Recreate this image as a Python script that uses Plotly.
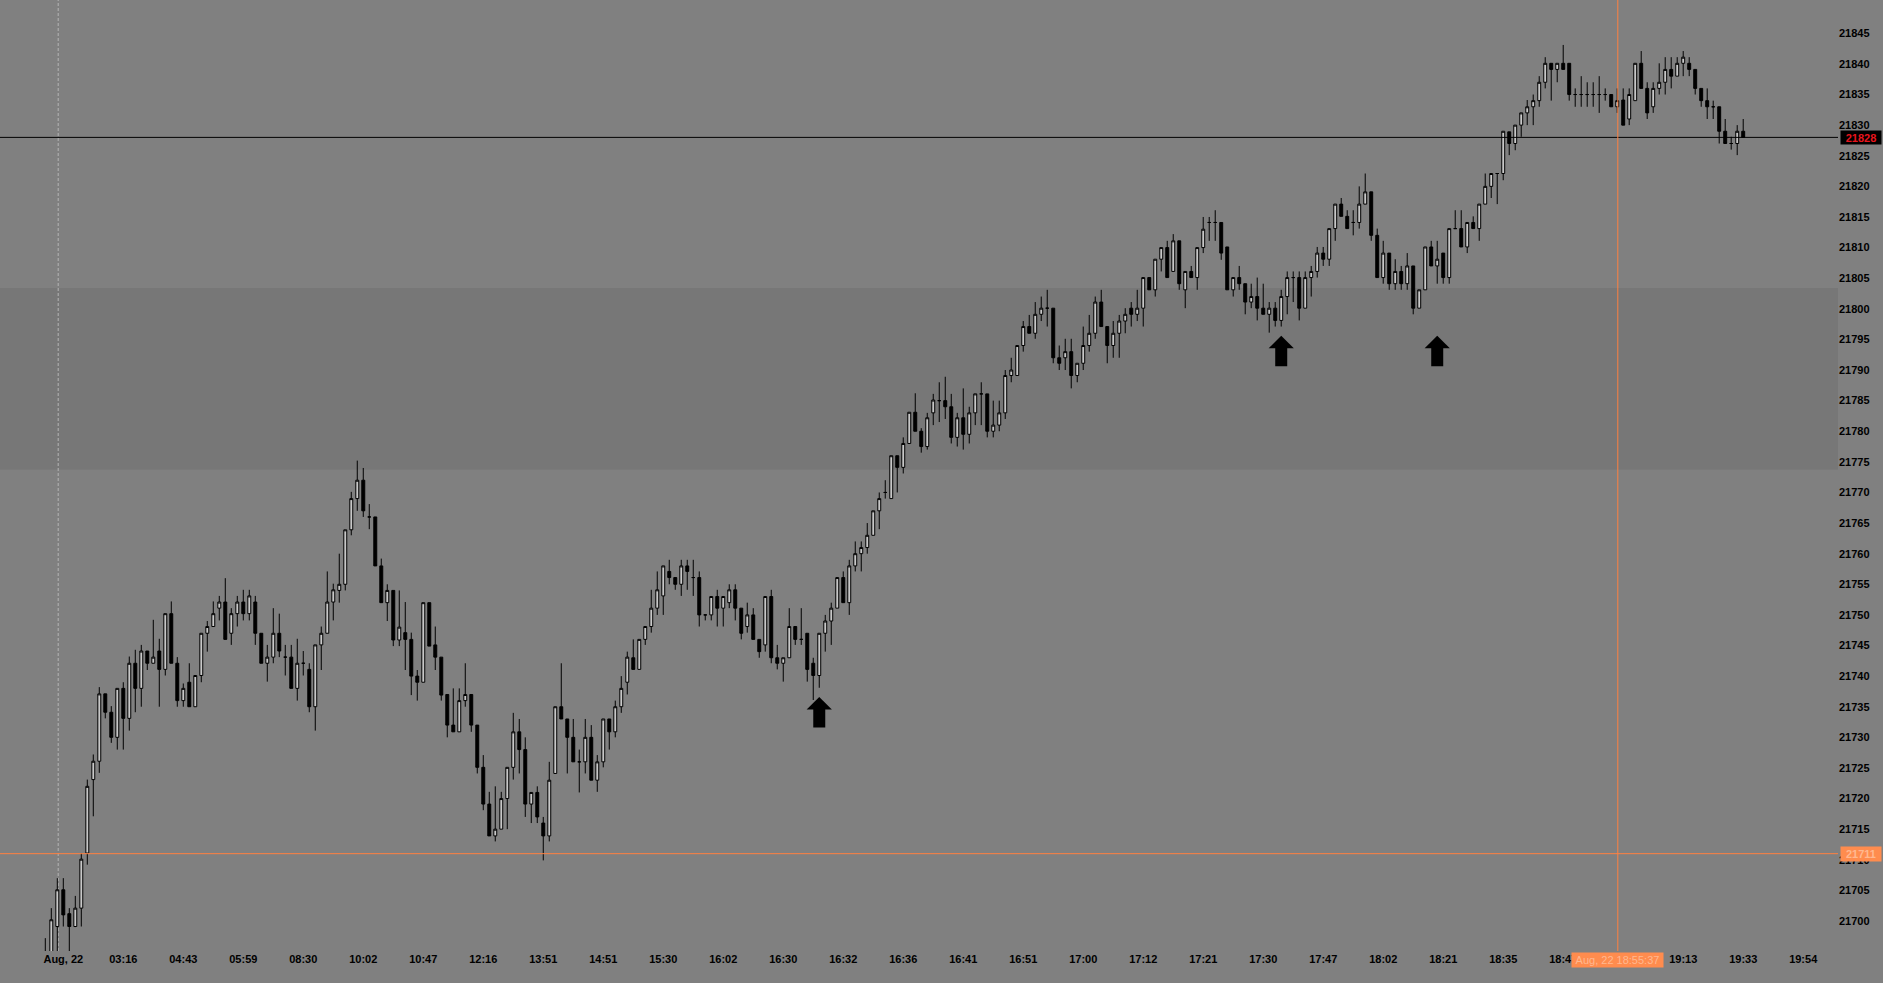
import plotly.graph_objects as go

# ---------------- data ----------------
opens = [
21695.0,21694.0,21699.1,21705.1,21701.2,21699.1,21702.1,21711.1,21723.1,21726.1,
21737.1,21734.1,21730.0,21738.0,21733.1,21742.1,21738.0,21744.1,21742.1,21744.1,
21741.1,21750.2,21742.1,21736.0,21739.0,21735.0,21740.1,21747.0,21748.1,21751.1,
21752.1,21747.0,21750.2,21752.1,21750.2,21752.1,21747.0,21742.1,21743.1,21747.0,
21743.1,21743.1,21738.0,21742.1,21741.1,21735.0,21745.1,21747.0,21752.1,21754.0,
21755.0,21763.9,21769.0,21772.0,21766.0,21766.0,21758.0,21752.0,21754.0,21745.9,
21747.1,21746.0,21740.0,21739.0,21752.0,21745.1,21743.1,21737.0,21732.0,21730.9,
21736.0,21737.0,21732.0,21725.1,21719.1,21713.9,21715.0,21720.0,21725.1,21730.9,
21728.0,21719.1,21721.0,21716.0,21713.9,21724.1,21735.0,21733.0,21730.0,21726.0,
21726.0,21730.0,21723.0,21726.0,21733.0,21730.9,21735.0,21739.0,21743.0,21741.1,
21746.0,21748.1,21751.1,21753.1,21757.1,21756.1,21755.0,21758.0,21756.1,21756.1,
21750.0,21750.0,21753.0,21751.1,21752.0,21754.1,21751.1,21748.1,21750.0,21746.0,
21745.1,21753.0,21743.0,21742.1,21743.0,21748.1,21746.0,21747.0,21742.1,21740.1,
21747.0,21749.0,21751.1,21756.1,21752.0,21758.0,21760.0,21761.0,21763.0,21767.0,
21770.0,21769.0,21776.0,21774.1,21778.0,21783.1,21780.0,21777.5,21783.0,21785.0,
21785.0,21784.0,21779.0,21782.2,21779.5,21783.0,21786.1,21786.1,21780.0,21781.0,
21783.0,21789.1,21789.1,21794.0,21797.1,21796.0,21799.1,21800.1,21800.1,21792.0,
21792.0,21793.0,21789.1,21791.1,21794.0,21796.0,21801.1,21797.1,21794.0,21796.0,
21798.0,21800.1,21799.1,21800.1,21805.1,21803.1,21808.1,21810.0,21806.1,21811.1,
21803.1,21806.1,21805.1,21810.0,21814.1,21814.1,21814.1,21810.1,21803.1,21805.1,
21804.1,21801.1,21802.0,21800.1,21799.1,21800.1,21798.1,21802.0,21805.1,21805.1,
21800.1,21805.1,21806.1,21809.1,21808.1,21813.1,21817.1,21815.1,21814.1,21814.1,
21817.1,21819.1,21812.0,21805.1,21809.1,21804.1,21806.1,21804.1,21807.0,21800.1,
21803.1,21810.1,21807.0,21809.1,21805.1,21813.1,21813.1,21810.1,21814.1,21813.1,
21817.1,21820.0,21822.1,21822.1,21828.9,21827.0,21830.0,21832.0,21833.0,21834.0,
21837.0,21840.1,21839.1,21840.1,21840.1,21835.0,21835.0,21835.0,21835.0,21835.0,
21835.0,21835.0,21833.0,21834.1,21831.0,21834.0,21840.1,21836.0,21833.0,21836.0,
21837.0,21839.1,21838.0,21840.1,21840.1,21839.1,21836.0,21834.0,21833.0,21833.0,
21829.0,21827.0,21827.0,21829.0]
highs = [
21697.2,21702.1,21707.0,21707.0,21702.1,21704.1,21711.1,21723.1,21727.2,21738.2,
21737.1,21735.1,21738.0,21739.0,21743.2,21744.3,21745.1,21744.1,21749.2,21746.1,
21750.2,21752.2,21743.1,21738.8,21742.1,21740.1,21747.0,21749.0,21752.2,21753.1,
21756.0,21751.1,21753.1,21754.1,21754.1,21753.1,21747.0,21745.1,21751.1,21750.2,
21745.1,21745.1,21746.1,21744.1,21742.1,21745.1,21748.1,21757.1,21755.1,21760.0,
21763.9,21770.1,21775.2,21774.0,21768.1,21766.0,21759.2,21755.0,21754.0,21754.0,
21752.1,21747.1,21741.0,21752.0,21752.0,21748.1,21743.1,21737.0,21738.0,21738.0,
21742.1,21737.0,21732.0,21727.1,21721.1,21722.0,21721.1,21725.1,21734.0,21733.0,
21730.0,21721.0,21722.0,21717.0,21726.0,21735.0,21742.1,21733.0,21733.0,21728.0,
21733.0,21732.0,21727.1,21733.0,21733.0,21736.0,21740.0,21744.0,21746.0,21746.0,
21748.1,21754.1,21757.1,21758.0,21759.0,21756.1,21759.0,21759.0,21759.0,21757.1,
21750.0,21753.0,21754.1,21753.0,21755.0,21755.0,21751.1,21752.0,21751.1,21746.0,
21753.0,21754.1,21745.1,21743.0,21751.1,21748.1,21751.1,21747.0,21743.0,21747.0,
21750.0,21752.0,21756.1,21757.1,21759.0,21762.0,21762.0,21765.0,21767.0,21770.0,
21772.0,21776.0,21776.0,21779.0,21783.1,21786.2,21780.5,21783.0,21786.1,21788.0,
21788.9,21786.1,21783.0,21787.0,21784.0,21786.1,21788.0,21786.1,21785.0,21785.0,
21790.0,21792.0,21794.0,21798.0,21799.0,21801.1,21802.0,21803.1,21800.1,21794.0,
21795.1,21795.1,21791.1,21797.1,21799.0,21802.0,21803.1,21797.1,21798.0,21799.0,
21800.1,21801.1,21803.1,21805.1,21805.1,21808.1,21810.0,21811.1,21812.2,21811.1,
21806.1,21807.0,21810.0,21815.0,21815.0,21816.1,21814.1,21810.1,21805.1,21807.0,
21804.1,21804.1,21805.1,21804.1,21801.1,21801.1,21803.1,21806.1,21806.1,21806.1,
21806.1,21807.0,21810.1,21810.1,21813.1,21817.1,21818.1,21816.1,21816.1,21820.0,
21822.1,21819.1,21813.1,21811.1,21809.1,21808.1,21807.0,21809.1,21807.0,21803.1,
21810.1,21811.1,21811.1,21809.1,21813.1,21816.1,21816.1,21814.1,21815.1,21817.1,
21822.1,21822.1,21822.1,21829.0,21828.9,21830.0,21832.0,21834.1,21835.0,21838.0,
21841.1,21840.1,21840.1,21843.1,21840.1,21836.0,21838.0,21837.0,21837.0,21838.0,
21836.0,21835.0,21836.0,21836.0,21836.0,21840.1,21842.1,21837.0,21837.0,21840.1,
21841.1,21841.1,21841.1,21842.1,21841.1,21839.1,21836.0,21836.0,21834.0,21833.0,
21831.0,21828.1,21830.0,21831.0]
lows = [
21693.0,21693.0,21695.0,21699.1,21695.0,21699.0,21699.1,21709.2,21717.1,21724.2,
21733.1,21729.1,21728.0,21728.0,21731.1,21734.1,21735.0,21741.0,21742.1,21735.0,
21740.1,21742.1,21735.0,21735.0,21735.0,21735.0,21739.0,21744.0,21748.1,21749.1,
21746.0,21745.1,21748.1,21749.1,21749.1,21745.1,21742.1,21739.1,21742.1,21743.1,
21740.1,21738.0,21736.0,21740.1,21734.1,21731.1,21741.0,21747.0,21749.1,21752.0,
21754.0,21763.0,21767.0,21766.0,21764.0,21758.0,21752.0,21749.0,21744.9,21744.9,
21741.0,21736.9,21736.0,21739.0,21744.9,21741.0,21736.0,21730.0,21730.9,21730.9,
21735.0,21730.9,21724.1,21718.1,21713.9,21713.0,21715.0,21715.0,21723.1,21724.1,
21717.0,21716.0,21716.0,21709.9,21713.0,21724.1,21733.0,21724.1,21726.0,21721.0,
21724.1,21723.0,21721.1,21725.1,21728.0,21730.0,21734.0,21737.0,21741.1,21741.1,
21745.1,21747.1,21750.0,21750.0,21755.0,21754.1,21753.1,21754.1,21753.1,21748.1,
21749.1,21749.1,21748.1,21748.1,21751.1,21749.1,21746.0,21747.1,21746.0,21743.0,
21744.0,21742.1,21741.1,21739.1,21743.0,21745.1,21745.1,21739.1,21736.1,21738.1,
21744.0,21745.1,21751.1,21752.0,21750.0,21757.1,21757.1,21760.0,21763.0,21764.0,
21769.0,21769.0,21770.0,21773.1,21778.0,21780.0,21776.5,21777.0,21781.0,21781.5,
21782.0,21778.0,21777.5,21777.0,21778.0,21781.0,21781.0,21779.0,21779.0,21780.0,
21782.0,21788.0,21789.1,21793.0,21796.0,21795.1,21798.0,21797.1,21791.1,21790.0,
21790.0,21787.0,21788.0,21790.0,21793.0,21795.1,21797.1,21791.1,21792.0,21792.0,
21796.0,21797.1,21798.0,21797.1,21803.1,21802.0,21806.1,21805.1,21806.1,21803.1,
21800.1,21805.1,21803.1,21809.1,21811.1,21811.1,21808.0,21803.1,21802.0,21803.1,
21799.1,21800.1,21798.1,21799.1,21796.1,21797.1,21797.1,21799.1,21801.1,21798.1,
21800.1,21802.0,21805.1,21807.0,21807.0,21811.1,21815.1,21813.1,21812.0,21813.1,
21817.1,21811.1,21805.1,21804.1,21803.1,21803.1,21803.1,21803.1,21799.1,21800.1,
21803.1,21807.0,21804.1,21804.1,21804.1,21813.1,21810.1,21809.1,21813.1,21811.1,
21817.1,21818.1,21817.1,21821.0,21825.1,21825.9,21828.1,21830.0,21830.0,21833.0,
21836.0,21834.0,21837.0,21839.1,21834.0,21833.0,21833.0,21833.0,21833.0,21832.0,
21834.0,21833.0,21832.0,21830.0,21830.0,21834.0,21836.0,21831.0,21832.0,21835.0,
21835.0,21836.0,21838.0,21838.0,21838.0,21835.0,21833.0,21831.0,21831.0,21827.0,
21827.0,21826.0,21825.1,21828.0]
closes = [
21694.5,21700.2,21705.1,21701.0,21699.1,21702.1,21710.1,21722.0,21726.1,21737.1,
21734.1,21730.0,21738.0,21733.1,21742.1,21738.0,21744.1,21742.1,21743.1,21741.1,
21750.2,21742.1,21736.0,21738.0,21735.0,21740.1,21747.0,21748.1,21750.2,21752.1,
21746.0,21750.2,21752.1,21750.2,21753.1,21747.0,21742.1,21743.1,21747.0,21744.1,
21743.1,21738.0,21742.1,21742.1,21735.0,21745.1,21747.0,21752.1,21754.1,21755.0,
21763.9,21769.0,21772.0,21767.0,21766.0,21758.0,21752.0,21754.0,21745.9,21748.0,
21746.0,21740.0,21739.0,21752.0,21744.9,21743.1,21736.9,21732.0,21730.9,21736.0,
21737.0,21732.0,21725.1,21719.1,21713.9,21715.0,21720.0,21725.1,21730.9,21728.0,
21719.1,21721.0,21717.0,21713.9,21723.0,21735.0,21733.0,21730.0,21726.0,21726.0,
21730.0,21723.0,21726.0,21733.0,21730.9,21735.0,21738.0,21743.1,21741.1,21746.0,
21748.1,21751.1,21754.1,21758.0,21756.1,21755.0,21758.0,21757.1,21756.1,21750.0,
21750.0,21753.0,21751.1,21753.0,21754.1,21751.1,21747.0,21750.0,21746.0,21744.0,
21753.0,21743.0,21742.1,21743.0,21748.1,21746.0,21746.0,21741.1,21740.1,21747.0,
21749.0,21751.1,21756.1,21752.0,21758.0,21760.0,21761.0,21763.0,21767.0,21769.0,
21770.0,21776.0,21774.1,21778.0,21783.1,21780.0,21777.5,21782.2,21785.1,21785.0,
21784.0,21779.0,21782.2,21779.5,21783.0,21786.1,21786.1,21780.0,21781.0,21783.0,
21789.1,21790.0,21794.0,21797.1,21796.0,21799.1,21800.1,21800.1,21792.0,21791.1,
21793.0,21789.1,21791.1,21794.0,21796.0,21801.1,21797.1,21794.0,21796.0,21798.0,
21799.1,21799.1,21800.1,21805.1,21803.1,21808.1,21810.0,21805.1,21811.1,21804.1,
21806.1,21805.1,21810.0,21813.0,21814.1,21814.1,21809.1,21803.1,21805.1,21804.1,
21801.1,21802.0,21800.1,21799.1,21800.1,21798.1,21802.0,21805.1,21805.1,21800.1,
21805.1,21806.1,21809.1,21808.1,21813.1,21817.1,21815.1,21813.1,21814.1,21817.1,
21819.1,21812.0,21805.1,21809.1,21804.1,21806.1,21804.1,21807.0,21800.1,21803.1,
21810.1,21807.0,21808.1,21805.1,21813.1,21813.1,21810.1,21814.1,21813.1,21817.1,
21820.0,21822.1,21822.1,21829.0,21827.0,21830.0,21832.0,21833.0,21834.0,21837.0,
21840.1,21839.1,21840.1,21839.1,21835.0,21835.0,21835.0,21835.0,21835.0,21835.0,
21835.0,21833.0,21834.0,21830.0,21835.0,21840.1,21836.0,21832.0,21836.0,21837.0,
21839.1,21838.0,21840.1,21841.1,21839.1,21836.0,21834.0,21833.0,21833.0,21829.0,
21827.0,21827.0,21829.0,21828.0]
bar_index = list(range(len(closes)))

x_tick_index = [3, 13, 23, 33, 43, 53, 63, 73, 83, 93, 103, 113, 123, 133, 143,
                153, 163, 173, 183, 193, 203, 213, 223, 233, 243, 253, 263, 273, 283, 293]
x_tick_text = ["Aug, 22", "03:16", "04:43", "05:59", "08:30", "10:02", "10:47", "12:16",
               "13:51", "14:51", "15:30", "16:02", "16:30", "16:32", "16:36", "16:41",
               "16:51", "17:00", "17:12", "17:21", "17:30", "17:47", "18:02", "18:21",
               "18:35", "18:47", "", "19:13", "19:33", "19:54"]
y_tick_values = [21700, 21705, 21710, 21715, 21720, 21725, 21730, 21735, 21740, 21745,
                 21750, 21755, 21760, 21765, 21770, 21775, 21780, 21785, 21790, 21795,
                 21800, 21805, 21810, 21815, 21820, 21825, 21830, 21835, 21840, 21845]

signal_index = [129, 206, 232]
signal_price = [21736.6, 21795.6, 21795.6]

zone_low, zone_high = 21773.7, 21803.4
last_price = 21828
cursor_index = 262.1
cursor_price = 21711
cursor_time_text = "Aug, 22 18:55:37"
session_start_index = 2.15

# ---------------- figure ----------------
BG = "#808080"
FONT = "Liberation Sans, Arial, sans-serif"
TICKFONT = dict(family=FONT, size=11, color="#000000", weight="bold")

fig = go.Figure()
fig.add_trace(go.Candlestick(
    x=bar_index, open=opens, high=highs, low=lows, close=closes,
    increasing=dict(fillcolor="#c8c8c8", line=dict(color="#000000", width=1)),
    decreasing=dict(fillcolor="#000000", line=dict(color="#000000", width=1)),
    hoverinfo="skip", showlegend=False,
))

shapes = [
    dict(type="rect", xref="paper", x0=0, x1=1, yref="y", y0=zone_low, y1=zone_high,
         fillcolor="rgba(0,0,0,0.065)", line=dict(width=0), layer="below"),
    dict(type="line", xref="x", x0=session_start_index, x1=session_start_index,
         yref="paper", y0=0, y1=1, line=dict(color="#b4b4b4", width=1, dash="3px,2px"),
         layer="below"),
    dict(type="line", xref="paper", x0=0, x1=1, yref="y", y0=last_price, y1=last_price,
         line=dict(color="#000000", width=1), layer="above"),
    dict(type="line", xref="paper", x0=0, x1=1, yref="y", y0=cursor_price, y1=cursor_price,
         line=dict(color="#ff8040", width=1), layer="above"),
    dict(type="line", xref="x", x0=cursor_index, x1=cursor_index, yref="paper", y0=0, y1=1,
         line=dict(color="#ff8040", width=1), layer="above"),
]

annotations = []
for xi, yp in zip(signal_index, signal_price):
    # head
    annotations.append(dict(x=xi, y=yp, xref="x", yref="y", text="", showarrow=True,
                            ax=0, ay=12, arrowhead=1, arrowwidth=2, arrowsize=2.1,
                            arrowcolor="#000000", standoff=0, font=dict(size=1),
                            borderpad=0))
    # shaft
    annotations.append(dict(x=xi, y=yp, xref="x", yref="y", text="", showarrow=True,
                            ax=0, ay=20, yshift=-11, arrowhead=0, arrowwidth=12,
                            arrowcolor="#000000", standoff=0, font=dict(size=1),
                            borderpad=0))

annotations.append(dict(x=1, xref="paper", xanchor="left", xshift=2, y=last_price, yref="y",
                        text=str(last_price), showarrow=False, bgcolor="#000000",
                        font=dict(family=FONT, size=11, color="#e8141c", weight="bold"),
                        width=40, height=13, borderpad=0))
annotations.append(dict(x=1, xref="paper", xanchor="left", xshift=2, y=cursor_price, yref="y",
                        text=str(cursor_price), showarrow=False, bgcolor="#ff8c4e",
                        font=dict(family=FONT, size=11, color="#ffb890", weight="bold"),
                        width=40, height=14, borderpad=0))
annotations.append(dict(x=cursor_index, xref="x", y=0, yref="paper", yanchor="top", yshift=-1,
                        text=cursor_time_text, showarrow=False, bgcolor="#ff8c4e",
                        font=dict(family=FONT, size=11, color="#ffb890"),
                        width=91, height=14, borderpad=0))

fig.update_layout(
    width=1883, height=983,
    margin=dict(l=0, r=45, t=0, b=32),
    paper_bgcolor=BG, plot_bgcolor=BG,
    showlegend=False, hovermode=False,
    shapes=shapes, annotations=annotations,
    xaxis=dict(range=[-7.55, 298.8], tickmode="array", tickvals=x_tick_index,
               ticktext=x_tick_text, showgrid=False, zeroline=False, showline=False,
               ticks="", rangeslider=dict(visible=False), fixedrange=True,
               tickfont=TICKFONT),
    yaxis=dict(side="right", range=[21695.1, 21850.44], tickmode="array",
               tickvals=y_tick_values, ticktext=[str(v) for v in y_tick_values],
               showgrid=False, zeroline=False, showline=False, ticks="", fixedrange=True,
               tickfont=TICKFONT),
)

fig.write_html("out.html", config={"displayModeBar": False},
               post_script="document.body.style.margin='0';document.body.style.overflow='hidden';")
